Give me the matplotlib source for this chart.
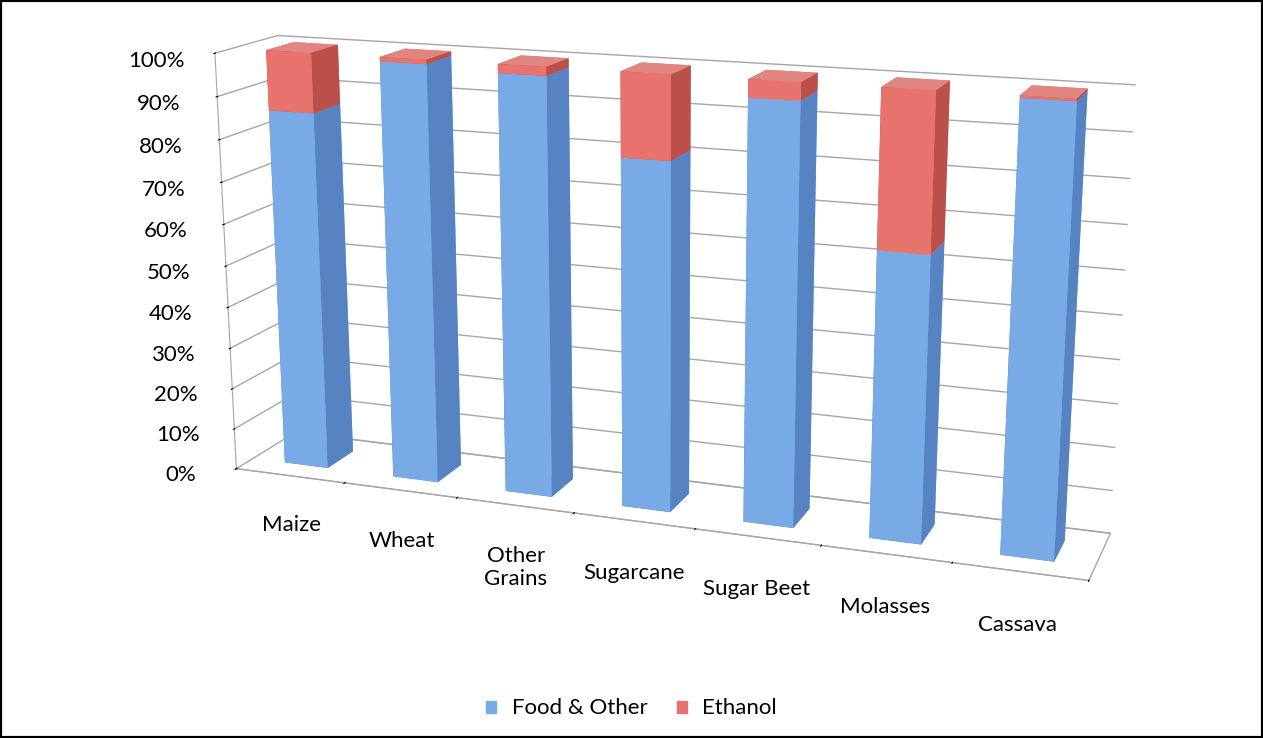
import matplotlib.pyplot as plt
from matplotlib.patches import Patch, Rectangle
from matplotlib.ticker import PercentFormatter
import numpy as np

plt.rcParams['font.family'] = ['Lato', 'DejaVu Sans']

crops = ["Maize", "Wheat", "Other\nGrains", "Sugarcane", "Sugar Beet", "Molasses", "Cassava"]
food = [86, 99, 98, 81, 96, 65, 99.5]
ethanol = [14, 1, 2, 19, 4, 35, 0.5]

# face colours in bar3d order: -z, +z, -y (front), +y, -x, +x (right side)
blue_faces = ["#4a7fc0", "#9cc3ee", "#78aae6", "#78aae6", "#5684c2", "#5684c2"]
red_faces = ["#c0504d", "#e08580", "#e8736d", "#e8736d", "#bb4f4a", "#bb4f4a"]

n = len(crops)
w = 0.4
d = 0.45

fig = plt.figure(figsize=(12.63, 7.38), dpi=100)
ax = fig.add_axes([0.012, 0.13, 1.0, 0.93], projection='3d')
ax.set_proj_type('persp', focal_length=0.6)
ax.view_init(elev=15, azim=-70)
ax.set_box_aspect((6.7, 0.95, 3.3), zoom=1.44)

for i in range(n):
    bars = ax.bar3d([i - w / 2, i - w / 2], [-d / 2, -d / 2], [0, food[i]], w, d,
                    [food[i], ethanol[i]], color=blue_faces + red_faces, shade=False)
    bars.set_clip_on(False)

ax.set_xlim(-0.5, n - 0.5)
ax.set_ylim(-0.5, 0.5)
ax.set_zlim(0, 100)
ax.set_xticks(np.arange(n + 1) - 0.5)
ax.set_xticklabels([])
ax.set_yticks([])
ax.set_zticks(range(0, 101, 10))
ax.zaxis.set_major_formatter(PercentFormatter(100, decimals=0))
ax.zaxis.set_ticks_position('lower')
ax.tick_params(axis='z', labelsize=16, pad=10)

for a in (ax.xaxis, ax.yaxis, ax.zaxis):
    a.set_pane_color((1, 1, 1, 1))
    a.pane.set_edgecolor((1, 1, 1, 0))
    a.line.set_color('#a6a6a6')
    a._axinfo['grid']['color'] = (1, 1, 1, 0)
ax.zaxis.pane.set_edgecolor('#a6a6a6')
ax.zaxis._axinfo['grid']['color'] = '#a6a6a6'
ax.zaxis._axinfo['grid']['linewidth'] = 1.0
ax.yaxis.line.set_color((1, 1, 1, 0))

for i, name in enumerate(crops):
    ax.text(i, -0.5, -10, name, ha='center', va='top', fontsize=16)

fig.legend(handles=[Patch(color="#78aae6", label="Food & Other"),
                    Patch(color="#e8736d", label="Ethanol")],
           loc='center', bbox_to_anchor=(0.5, 0.04), ncol=2, frameon=False,
           fontsize=16, handlelength=0.45, handleheight=0.45, handletextpad=0.7,
           columnspacing=1.3)

fig.add_artist(Rectangle((0, 0), 1, 1, transform=fig.transFigure, fill=False,
                         edgecolor='black', linewidth=3))

fig.savefig("out.png", dpi=100)
